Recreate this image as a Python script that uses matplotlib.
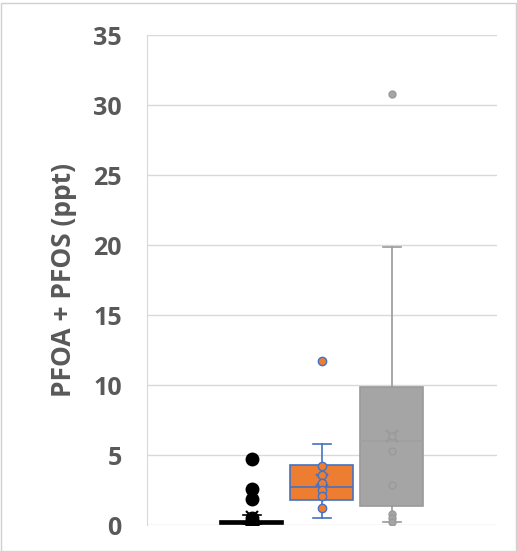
import numpy as np
import matplotlib.pyplot as plt
from matplotlib.patches import Rectangle

# Box statistics (ppt)
groups = ['A', 'B', 'C']
q1 = [0.1, 1.8, 1.4]
medians = [0.2, 2.7, 6.0]
q3 = [0.3, 4.3, 9.9]
whisk_lo = [0.0, 0.5, 0.2]
whisk_hi = [0.7, 5.8, 19.9]
means = [0.6, 3.2, 6.4]
outliers = [[4.7, 2.6, 1.9], [11.7], [30.8]]
inner_pts = [[0.5, 0.3, 0.1, 0.0],
             [4.2, 3.6, 3.0, 2.5, 2.1, 1.2],
             [6.4, 5.3, 2.9, 0.8, 0.5, 0.2]]

fills = ['black', '#ed7d31', '#a5a5a5']
edges = ['black', '#4472c4', '#9a9a9a']
med_col = ['black', '#4472c4', '#a0a0a0']
pt_size = [9, 6, 5]

positions = [1.5, 2.5, 3.5]
txt = '#595959'

plt.rcParams['font.family'] = ['Open Sans', 'DejaVu Sans']

fig = plt.figure(figsize=(5.17, 5.51), dpi=100)
ax = fig.add_axes([0.284, 0.047, 0.677, 0.889])

for i in range(len(groups)):
    st = [dict(med=medians[i], q1=q1[i], q3=q3[i], whislo=whisk_lo[i],
               whishi=whisk_hi[i], fliers=outliers[i], mean=means[i])]
    ax.bxp(st, positions=[positions[i]], widths=0.9, patch_artist=True,
           showmeans=True, manage_ticks=False,
           boxprops=dict(facecolor=fills[i], edgecolor=edges[i], linewidth=1.2),
           medianprops=dict(color=med_col[i], linewidth=1.2),
           whiskerprops=dict(color=edges[i], linewidth=1.2),
           capprops=dict(color=edges[i], linewidth=1.2),
           capwidths=0.25,
           meanprops=dict(marker='x', markeredgecolor=edges[i], markersize=8,
                          markeredgewidth=1.5),
           flierprops=dict(marker='o', markerfacecolor=fills[i],
                           markeredgecolor=edges[i], markersize=pt_size[i]))
    ax.plot([positions[i]] * len(inner_pts[i]), inner_pts[i], 'o',
            color=fills[i], markeredgecolor=edges[i], markersize=pt_size[i],
            zorder=4)

ax.set_xlim(0, 5)
ax.set_ylim(0, 35)
ax.set_yticks(range(0, 36, 5))
ax.set_xticks([])
ax.grid(axis='y', color='#d9d9d9', linewidth=1)
ax.set_axisbelow(True)
for s in ['top', 'right', 'bottom']:
    ax.spines[s].set_visible(False)
ax.spines['left'].set_color('#d9d9d9')
ax.tick_params(axis='y', length=0, pad=18, labelsize=18, labelcolor=txt)
for lb in ax.get_yticklabels():
    lb.set_fontweight('bold')
ax.set_ylabel('PFOA + PFOS (ppt)', fontsize=19, fontweight='bold', color=txt,
              labelpad=12)

fig.patches.append(Rectangle((0.002, 0.0), 0.996, 0.995, transform=fig.transFigure,
                             fill=False, edgecolor='#d0d0d0', linewidth=1))

fig.savefig('out.png', dpi=100)
